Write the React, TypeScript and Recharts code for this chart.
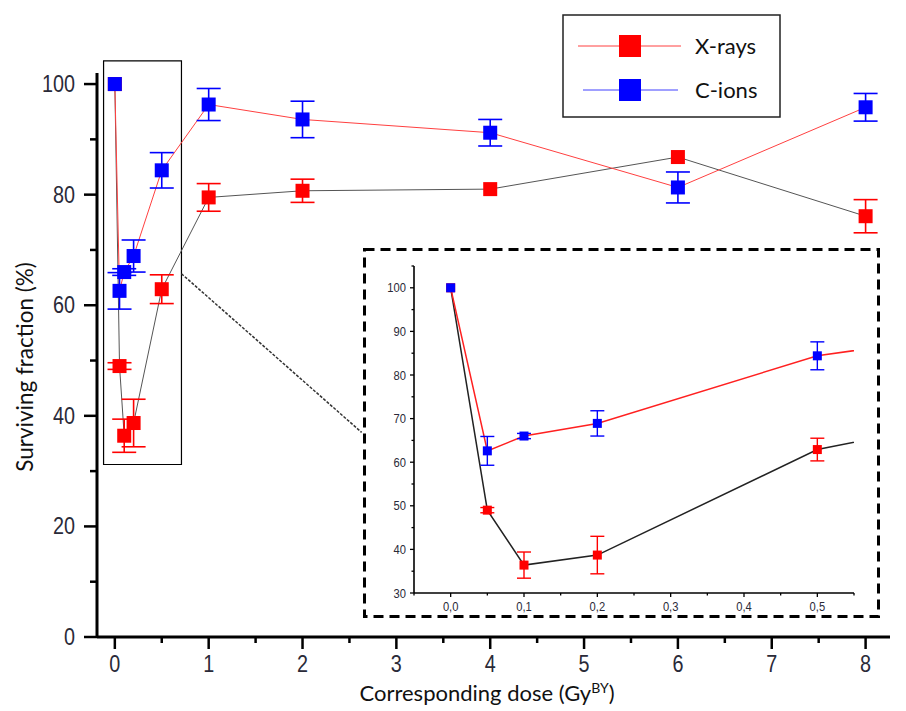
import { ComposedChart, Line, Scatter, ErrorBar, XAxis, YAxis, ReferenceArea, ReferenceLine } from 'recharts'

// doses in Gy, survival in %
const doses = [0, 0.05, 0.1, 0.2, 0.5, 1, 2, 4, 6, 8]
const xraySurvival = [100, 49.0, 36.4, 38.7, 62.9, 79.5, 80.7, 81.0, 86.8, 76.1]
const xrayError = [0, 0.6, 3.0, 4.3, 2.6, 2.5, 2.1, 0, 0, 3.0]
const cionSurvival = [100, 62.6, 66.0, 68.9, 84.4, 96.3, 93.6, 91.2, 81.3, 95.8]
const cionError = [0, 3.3, 0.6, 2.9, 3.2, 2.9, 3.3, 2.4, 2.8, 2.5]

const mainXTicks = [0, 0.5, 1, 1.5, 2, 2.5, 3, 3.5, 4, 4.5, 5, 5.5, 6, 6.5, 7, 7.5, 8]
const mainYTicks = [0, 10, 20, 30, 40, 50, 60, 70, 80, 90, 100]
const insetXTicks = [-0.05, 0, 0.05, 0.1, 0.15, 0.2, 0.25, 0.3, 0.35, 0.4, 0.45, 0.5, 0.55]
const insetYTicks = [30, 35, 40, 45, 50, 55, 60, 65, 70, 75, 80, 85, 90, 95, 100, 105]

const xrayPts = doses.map((x, i) => ({ x, y: xraySurvival[i], e: xrayError[i] }))
const cionPts = doses.map((x, i) => ({ x, y: cionSurvival[i], e: cionError[i] }))

const TICK_FONT = "'Liberation Sans Narrow', 'Liberation Sans', sans-serif"
const TEXT_FONT = "Lato, 'Open Sans', sans-serif"
const LABEL_COLOR = '#2a2a38'

const square = (size: number, fill: string) => (props: any) => (
  <rect x={props.cx - size / 2} y={props.cy - size / 2} width={size} height={size} fill={fill} />
)

// narrow-looking numbers, squeezed horizontally around their anchor
function NarrowText({ x, y, anchor, size, children }: any) {
  return (
    <text
      transform={`translate(${x} ${y}) scale(0.86 1)`}
      dy="0.35em"
      textAnchor={anchor}
      fontSize={size}
      fontFamily={TICK_FONT}
      fill={LABEL_COLOR}
    >
      {children}
    </text>
  )
}

function MainYTick({ x, y, payload }: any) {
  const major = payload.value % 20 === 0
  return (
    <g>
      <line x1={x} x2={x - (major ? 13 : 7)} y1={y} y2={y} stroke="#000" strokeWidth={2.5} />
      {major && (
        <NarrowText x={x - 22} y={y} anchor="end" size={23}>
          {payload.value}
        </NarrowText>
      )}
    </g>
  )
}

function MainXTick({ x, y, payload }: any) {
  const major = Number.isInteger(payload.value)
  return (
    <g>
      <line x1={x} x2={x} y1={y} y2={y + (major ? 12 : 6)} stroke="#000" strokeWidth={2.5} />
      {major && (
        <NarrowText x={x} y={y + 27} anchor="middle" size={23}>
          {payload.value}
        </NarrowText>
      )}
    </g>
  )
}

function InsetYTick({ x, y, payload }: any) {
  const major = payload.value % 10 === 0 && payload.value <= 100
  return (
    <g>
      <line x1={x} x2={x - (major ? 4 : 2.5)} y1={y} y2={y} stroke="#000" strokeWidth={1.3} />
      {major && (
        <NarrowText x={x - 8} y={y} anchor="end" size={13}>
          {payload.value}
        </NarrowText>
      )}
    </g>
  )
}

function InsetXTick({ x, y, payload }: any) {
  const v = payload.value
  const major = v >= 0 && Math.abs(v * 10 - Math.round(v * 10)) < 1e-6
  return (
    <g>
      <line x1={x} x2={x} y1={y} y2={y + (major ? 4 : 2.5)} stroke="#000" strokeWidth={1.3} />
      {major && (
        <NarrowText x={x} y={y + 13} anchor="middle" size={13}>
          {v.toFixed(1).replace('.', ',')}
        </NarrowText>
      )}
    </g>
  )
}

function Inset() {
  const xrayMarks = xrayPts.filter((p) => p.x <= 0.5)
  const cionMarks = cionPts.filter((p) => p.x <= 0.5)
  return (
    <div style={{ position: 'absolute', left: 363, top: 248, width: 517, height: 370, background: '#fff' }}>
      <ComposedChart width={517} height={370} margin={{ top: 18, right: 26, left: 21, bottom: 3 }}>
        <XAxis
          type="number"
          dataKey="x"
          domain={[-0.05, 0.55]}
          allowDataOverflow
          ticks={insetXTicks}
          interval={0}
          height={22}
          tickSize={0}
          tickMargin={0}
          tickLine={false}
          tick={<InsetXTick />}
          axisLine={{ stroke: '#000', strokeWidth: 1.6 }}
        />
        <YAxis
          type="number"
          domain={[30, 105]}
          allowDataOverflow
          ticks={insetYTicks}
          interval={0}
          width={30}
          tickSize={0}
          tickMargin={0}
          tickLine={false}
          tick={<InsetYTick />}
          axisLine={{ stroke: '#000', strokeWidth: 1.6 }}
        />
        <Line data={xrayPts} dataKey="y" type="linear" stroke="#222" strokeWidth={1.5} dot={false} activeDot={false} isAnimationActive={false} />
        <Line data={cionPts} dataKey="y" type="linear" stroke="#ff2020" strokeWidth={1.5} dot={false} activeDot={false} isAnimationActive={false} />
        <Scatter data={xrayMarks} dataKey="y" shape={square(9, '#ff0000')} isAnimationActive={false}>
          <ErrorBar dataKey="e" direction="y" width={7} stroke="#ff0000" strokeWidth={1.4} />
        </Scatter>
        <Scatter data={cionMarks} dataKey="y" shape={square(9, '#0000ff')} isAnimationActive={false}>
          <ErrorBar dataKey="e" direction="y" width={7} stroke="#0000ff" strokeWidth={1.4} />
        </Scatter>
      </ComposedChart>
      <svg width={517} height={370} style={{ position: 'absolute', left: 0, top: 0, pointerEvents: 'none' }}>
        <rect x={1.5} y={1.5} width={514} height={367} fill="none" stroke="#000" strokeWidth={3} strokeDasharray="10 6" />
      </svg>
    </div>
  )
}

export default function App() {
  return (
    <div style={{ position: 'absolute', left: 0, top: 0, width: 906, height: 711, background: '#fff' }}>
      <ComposedChart width={906} height={711} margin={{ top: 73, right: 16, left: 37, bottom: 34 }}>
        <XAxis
          type="number"
          dataKey="x"
          domain={[-0.19, 8.26]}
          ticks={mainXTicks}
          interval={0}
          height={40}
          tickSize={0}
          tickMargin={0}
          tickLine={false}
          tick={<MainXTick />}
          axisLine={{ stroke: '#000', strokeWidth: 3 }}
        />
        <YAxis
          type="number"
          domain={[0, 102]}
          ticks={mainYTicks}
          interval={0}
          width={60}
          tickSize={0}
          tickMargin={0}
          tickLine={false}
          tick={<MainYTick />}
          axisLine={{ stroke: '#000', strokeWidth: 3 }}
        />
        <ReferenceArea x1={-0.12} x2={0.71} y1={31.2} y2={104.2} ifOverflow="visible" fill="none" stroke="#000" strokeWidth={1.2} />
        <ReferenceLine
          segment={[{ x: 0.71, y: 65.7 }, { x: 2.63, y: 37 }]}
          ifOverflow="visible"
          stroke="#333"
          strokeWidth={1.5}
          strokeDasharray="3 1.5"
        />
        <Line data={xrayPts} dataKey="y" type="linear" stroke="#555" strokeWidth={1} dot={false} activeDot={false} isAnimationActive={false} />
        <Line data={cionPts} dataKey="y" type="linear" stroke="#ff4040" strokeWidth={1} dot={false} activeDot={false} isAnimationActive={false} />
        <Scatter data={xrayPts} dataKey="y" shape={square(14, '#ff0000')} isAnimationActive={false}>
          <ErrorBar dataKey="e" direction="y" width={12} stroke="#ff0000" strokeWidth={1.6} />
        </Scatter>
        <Scatter data={cionPts} dataKey="y" shape={square(14, '#0000ff')} isAnimationActive={false}>
          <ErrorBar dataKey="e" direction="y" width={12} stroke="#0000ff" strokeWidth={1.6} />
        </Scatter>
      </ComposedChart>

      <svg width={906} height={711} style={{ position: 'absolute', left: 0, top: 0, pointerEvents: 'none' }}>
        <text
          transform="translate(25 367) rotate(-90)"
          textAnchor="middle"
          dy="0.35em"
          fontSize={22.5}
          fontFamily={TEXT_FONT}
          fill="#111"
        >
          Surviving fraction (%)
        </text>
        <text x={487} y={701} textAnchor="middle" fontSize={22} fontFamily={TEXT_FONT} fill="#111">
          Corresponding dose (Gy<tspan dy={-8} fontSize={14}>BY</tspan>
          <tspan dy={8}>)</tspan>
        </text>
        <rect x={563} y={15} width={217} height={102} fill="#fff" stroke="#222" strokeWidth={1.5} />
        <line x1={578} x2={681} y1={46} y2={46} stroke="#ff4040" strokeWidth={1} />
        <rect x={619} y={35} width={22} height={22} fill="#ff0000" />
        <text x={695} y={46} dy="0.35em" fontSize={22} fontFamily={TEXT_FONT} fill="#111">X-rays</text>
        <line x1={583} x2={678} y1={90} y2={90} stroke="#4040ff" strokeWidth={1} />
        <rect x={619} y={79} width={22} height={22} fill="#0000ff" />
        <text x={695} y={90} dy="0.35em" fontSize={22} fontFamily={TEXT_FONT} fill="#111">C-ions</text>
      </svg>

      <Inset />
    </div>
  )
}
